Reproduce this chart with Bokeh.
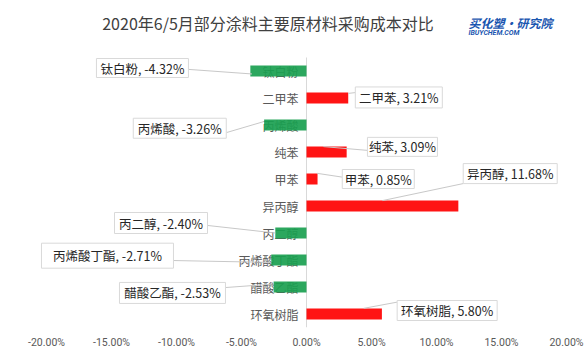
from bokeh.plotting import figure
from bokeh.models import Range1d, FixedTicker, PrintfTickFormatter, ColumnDataSource
from bokeh.core.properties import value
from bokeh.embed import file_html
from bokeh.resources import INLINE

# ---- data ----
title = "2020年6/5月部分涂料主要原材料采购成本对比"
categories = ["钛白粉", "二甲苯", "丙烯酸", "纯苯", "甲苯", "异丙醇",
              "丙二醇", "丙烯酸丁酯", "醋酸乙酯", "环氧树脂"]
changes = [-4.32, 3.21, -3.26, 3.09, 0.85, 11.68, -2.40, -2.71, -2.53, 5.80]
x_ticks = [-20, -15, -10, -5, 0, 5, 10, 15, 20]

# ---- callout layout (box centre in data units, box size in px) ----
box_x = [-12.62, 7.10, -9.75, 7.38, 5.52, 15.67, -11.19, -15.31, -10.31, 10.82]
box_y = [0.39, 1.48, 2.62, 3.31, 4.50, 4.30, 6.13, 7.34, 8.72, 9.37]
box_w = [92, 87, 93, 70, 72, 94, 93, 132, 106, 100]
box_h = [19, 21, 20, 19, 19, 20, 21, 25, 21, 20]
lead_box_x = [-9.08, 3.75, -6.15, 4.69, 2.75, 12.05, -7.62, -10.23, -6.23, 6.98]
lead_box_y = [0.44, 1.30, 2.78, 3.44, 4.43, 4.67, 6.22, 7.52, 8.52, 9.06]
lead_frac = [0.97, 1.0, 1.0, 0.42, 0.96, 0.5, 1.0, 1.0, 1.0, 0.76]
lead_dy = [0.11, -0.17, -0.13, -0.2, -0.21, -0.2, 0.0, 0.09, -0.11, -0.21]

FONT = value("Noto Sans CJK SC")
n = len(categories)
yc = [i + 0.5 for i in range(n)]
colors = ["#1a9f50" if v < 0 else "#ff0000" for v in changes]

p = figure(width=588, height=356, output_backend="svg", toolbar_location=None,
           x_range=Range1d(-306 / 13, 282 / 13), y_range=Range1d(10, -57 / 27),
           y_axis_location=None, min_border_left=0, min_border_right=0,
           min_border_top=0, min_border_bottom=29)
p.title.visible = False
p.outline_line_color = None
p.xgrid.visible = False
p.ygrid.visible = False
p.background_fill_color = "white"

ax = p.xaxis[0]
ax.ticker = FixedTicker(ticks=x_ticks)
ax.formatter = PrintfTickFormatter(format="%.2f%%")
ax.axis_line_color = None
ax.major_tick_line_color = None
ax.minor_tick_line_color = None
ax.major_tick_out = 0
ax.major_label_standoff = 8
ax.major_label_text_font_size = "10.5px"
ax.major_label_text_color = "#595959"
ax.major_label_text_font = "Roboto"

# zero line
p.segment(x0=[0], y0=[0], x1=[0], y1=[n], line_color="#d9d9d9", line_width=1)

# category labels
p.text(x=[0] * n, y=yc, text=categories, x_offset=-8, text_align="right",
       text_baseline="middle", text_font=FONT, text_font_size="12px",
       text_color="#595959")

# bars
p.hbar(y=yc, left=0, right=changes, height=0.4, fill_color=colors,
       line_color=None, fill_alpha=0.92)

# leader lines
lx1 = [v * f for v, f in zip(changes, lead_frac)]
ly1 = [y + d for y, d in zip(yc, lead_dy)]
p.segment(x0=lx1, y0=ly1, x1=lead_box_x, y1=lead_box_y,
          line_color="#c8c8c8", line_width=1)

# callout boxes
p.rect(x=box_x, y=box_y, width=box_w, height=box_h, width_units="screen",
       height_units="screen", fill_color="white", line_color="#d9d9d9", line_width=1)
labels = [f"{c}, {v:.2f}%" for c, v in zip(categories, changes)]
p.text(x=box_x, y=box_y, text=labels, text_align="center", text_baseline="middle",
       text_font=FONT, text_font_size="12.5px", text_color="#262626")

# title
p.text(x=[-2.96], y=[-1.296], text=[title], text_align="center",
       text_baseline="middle", text_font=FONT, text_font_size="16px",
       text_color="#404040")

# logo
p.text(x=[12.46], y=[-1.30], text=["买化塑·研究院"], text_align="left",
       text_baseline="middle", text_font=FONT, text_font_size="12px",
       text_font_style="bold italic", text_color="#1a56b0")
p.text(x=[12.46], y=[-0.90], text=["IBUYCHEM.COM"], text_align="left",
       text_baseline="middle", text_font=value("Roboto"), text_font_size="7px",
       text_font_style="bold italic", text_color="#1a56b0")

open("out.html", "w").write(file_html(p, INLINE))
